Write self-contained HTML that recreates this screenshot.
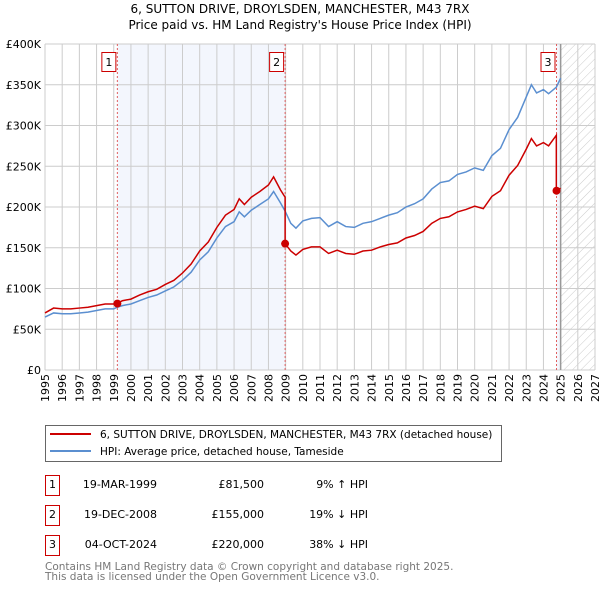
<!DOCTYPE html>
<html><head><meta charset="utf-8"><style>
body{margin:0;background:#fff;}
svg{display:block;font-family:"DejaVu Sans","Liberation Sans",sans-serif;}
</style></head><body>
<svg id="chart" width="600" height="590" viewBox="0 0 600 590">
<defs>
<pattern id="hatch" width="6" height="6" patternUnits="userSpaceOnUse" patternTransform="rotate(45)">
<line x1="0" y1="0" x2="0" y2="6" stroke="#ccc" stroke-width="1"/></pattern>
</defs>
<text x="300" y="13" font-size="12" text-anchor="middle">6, SUTTON DRIVE, DROYLSDEN, MANCHESTER, M43 7RX</text>
<text x="300" y="29" font-size="12" text-anchor="middle">Price paid vs. HM Land Registry's House Price Index (HPI)</text>
<g id="plot"></g>
<g>
<rect x="45.5" y="425.5" width="456" height="36" fill="#fff" stroke="#666"/>
<line x1="50" y1="434" x2="91" y2="434" stroke="#cc0000" stroke-width="2"/>
<text x="100" y="438" font-size="10.5">6, SUTTON DRIVE, DROYLSDEN, MANCHESTER, M43 7RX (detached house)</text>
<line x1="50" y1="451" x2="91" y2="451" stroke="#5b8fd0" stroke-width="2"/>
<text x="100" y="455" font-size="10.5">HPI: Average price, detached house, Tameside</text>
</g>
<g font-size="11">
<rect x="45.5" y="475.5" width="14" height="20" fill="#fff" stroke="#cc0000"/><text x="52.5" y="488" text-anchor="middle">1</text>
<text x="157" y="488" text-anchor="end">19-MAR-1999</text><text x="264" y="488" text-anchor="end">£81,500</text><text x="368" y="488" text-anchor="end">9% ↑ HPI</text>
<rect x="45.5" y="505.5" width="14" height="20" fill="#fff" stroke="#cc0000"/><text x="52.5" y="518" text-anchor="middle">2</text>
<text x="157" y="518" text-anchor="end">19-DEC-2008</text><text x="264" y="518" text-anchor="end">£155,000</text><text x="368" y="518" text-anchor="end">19% ↓ HPI</text>
<rect x="45.5" y="535.5" width="14" height="20" fill="#fff" stroke="#cc0000"/><text x="52.5" y="548" text-anchor="middle">3</text>
<text x="157" y="548" text-anchor="end">04-OCT-2024</text><text x="264" y="548" text-anchor="end">£220,000</text><text x="368" y="548" text-anchor="end">38% ↓ HPI</text>
</g>
<g font-size="10.5" fill="#777">
<text x="45" y="570">Contains HM Land Registry data © Crown copyright and database right 2025.</text>
<text x="45" y="580">This data is licensed under the Open Government Licence v3.0.</text>
</g>
</svg>
<script>
const hpiYears=[1995,1995.5,1996,1996.5,1997,1997.5,1998,1998.5,1999,1999.2,1999.5,2000,2000.5,2001,2001.5,2002,2002.5,2003,2003.5,2004,2004.5,2005,2005.5,2006,2006.3,2006.6,2007,2007.5,2008,2008.3,2008.7,2008.97,2009.3,2009.6,2010,2010.5,2011,2011.5,2012,2012.5,2013,2013.5,2014,2014.5,2015,2015.5,2016,2016.5,2017,2017.5,2018,2018.5,2019,2019.5,2020,2020.5,2021,2021.5,2022,2022.5,2023,2023.3,2023.6,2024,2024.3,2024.75,2025];
const hpiValues=[65,70,69,69,70,71,73,75,75,77,79,81,85,89,92,97,102,110,120,135,145,162,176,182,194,188,196,203,210,219,205,195,180,174,183,186,187,176,182,176,175,180,182,186,190,193,200,204,210,222,230,232,240,243,248,245,263,272,295,310,335,350,340,344,339,347,358];
const redYears=[1995,1995.5,1996,1996.5,1997,1997.5,1998,1998.5,1999,1999.2,1999.5,2000,2000.5,2001,2001.5,2002,2002.5,2003,2003.5,2004,2004.5,2005,2005.5,2006,2006.3,2006.6,2007,2007.5,2008,2008.3,2008.7,2008.97,2008.97,2009.3,2009.6,2010,2010.5,2011,2011.5,2012,2012.5,2013,2013.5,2014,2014.5,2015,2015.5,2016,2016.5,2017,2017.5,2018,2018.5,2019,2019.5,2020,2020.5,2021,2021.5,2022,2022.5,2023,2023.3,2023.6,2024,2024.3,2024.75,2024.75,2025];
const redValues=[70,76,75,75,76,77,79,81,81,81.5,85,87,92,96,99,105,110,119,130,146,157,175,190,197,210,203,212,219,227,237,221,212,155,146,141,148,151,151,143,147,143,142,146,147,151,154,156,162,165,170,180,186,188,194,197,201,198,213,220,239,251,271,284,275,279,275,288,220,223];
const saleYears=[1999.21,2008.97,2024.76];
const saleValues=[81.5,155,220];
const saleLabels=["1","2","3"];
const yTicks=[0,50,100,150,200,250,300,350,400];
const yTickLabels=["£0","£50K","£100K","£150K","£200K","£250K","£300K","£350K","£400K"];
const xTicks=[1995,1996,1997,1998,1999,2000,2001,2002,2003,2004,2005,2006,2007,2008,2009,2010,2011,2012,2013,2014,2015,2016,2017,2018,2019,2020,2021,2022,2023,2024,2025,2026,2027];

const X0=45,X1=595,Y0=370,Y1=44;
const sx=y=>X0+(y-1995)/(2027-1995)*(X1-X0);
const sy=v=>Y0-v/400*(Y0-Y1);
const NS="http://www.w3.org/2000/svg";
const plot=document.getElementById('plot');
function mk(tag,attrs,parent){const e=document.createElementNS(NS,tag);for(const k in attrs)e.setAttribute(k,attrs[k]);(parent||plot).appendChild(e);return e;}

let e=mk('rect',{x:sx(saleYears[0]),y:Y1,width:sx(saleYears[1])-sx(saleYears[0]),height:Y0-Y1,fill:'#f3f6fd'});


e=mk('rect',{x:sx(saleYears[2]),y:Y1,width:sx(2025)-sx(saleYears[2]),height:Y0-Y1,fill:'#f3f6fd'});


e=mk('rect',{x:sx(2025),y:Y1,width:X1-sx(2025),height:Y0-Y1,fill:'url(#hatch)'});



xTicks.forEach((t,i)=>{
  const g=mk('line',{x1:sx(t),x2:sx(t),y1:Y1,y2:Y0,stroke:'#ccc','stroke-width':1});
  
  
  const tx=mk('text',{x:0,y:0,'font-size':11,'text-anchor':'end',transform:`translate(${sx(t)+4},${Y0+4}) rotate(-90)`});
  tx.textContent=t;
  
  
});
yTicks.forEach((t,i)=>{
  const g=mk('line',{x1:X0,x2:X1,y1:sy(t),y2:sy(t),stroke:'#ccc','stroke-width':1});
  
  
  const tx=mk('text',{x:X0-4,y:sy(t)+4,'font-size':11,'text-anchor':'end'});
  tx.textContent=yTickLabels[i];
  
  
});
e=mk('line',{x1:sx(2025),x2:sx(2025),y1:Y1,y2:Y0,stroke:'#999','stroke-width':1.5});



saleYears.forEach((y,i)=>{
  const l=mk('line',{x1:sx(y),x2:sx(y),y1:Y1,y2:Y0,stroke:'#e06060','stroke-width':1,'stroke-dasharray':'2,2'});
  
  
  const r=mk('rect',{x:sx(y)-15.5,y:52.5,width:14,height:19,fill:'#fff',stroke:'#cc0000'});
  
  
  const t=mk('text',{x:sx(y)-8.5,y:66,'font-size':11,'text-anchor':'middle'});
  t.textContent=saleLabels[i];
  
  
});

e=mk('polyline',{points:hpiYears.map((y,i)=>sx(y)+','+sy(hpiValues[i])).join(' '),fill:'none',stroke:'#5b8fd0','stroke-width':1.5});


e=mk('polyline',{points:redYears.map((y,i)=>sx(y)+','+sy(redValues[i])).join(' '),fill:'none',stroke:'#cc0000','stroke-width':1.5});


saleYears.forEach((y,i)=>{
  const c=mk('circle',{cx:sx(y),cy:sy(saleValues[i]),r:4,fill:'#cc0000'});
  
  
});
</script>
</body></html>
